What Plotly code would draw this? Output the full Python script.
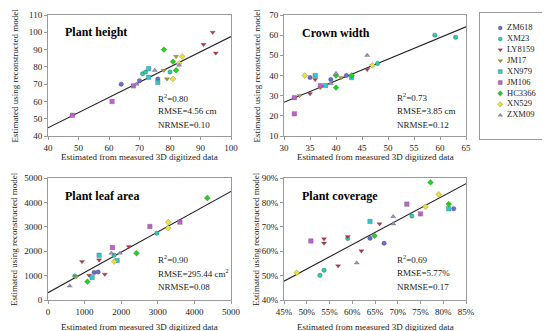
import plotly.graph_objects as go

W, H = 550, 331

cultivars = ["ZM618", "XM23", "LY8159", "JM17", "XN979", "JM106", "HC3366", "XN529", "ZXM09"]
colors = ["#6a6ad0", "#2fc8a8", "#b8384a", "#a8a020", "#30c8d0", "#c060d0", "#20d020", "#ece040", "#9a90c8"]
symbols = ["circle", "circle", "triangle-down", "triangle-down", "square", "square", "diamond", "diamond", "triangle-up"]

# Plant height (cm)
height_x = [[64, 70, 76], [71, 72, 80], [94, 91, 95], [78, 79, 82], [73, 73, 76],
            [48, 61, 68], [78, 81, 82], [81, 84, 83], [75, 83, 69]]
height_y = [[70, 72, 73], [76, 77, 77], [100, 93, 88], [78, 73, 86], [79, 74, 71],
            [52, 60, 69], [90, 83, 78], [73, 86, 82], [78, 81, 70]]

# Crown width (cm)
crown_x = [[35, 39, 42], [48, 59, 63], [35, 36, 46], [33, 37, 41, 47], [36, 38, 43],
           [32, 32, 37], [40, 40, 43], [34, 47], [39, 40, 46]]
crown_y = [[39, 38, 40], [46, 60, 59], [31, 38, 43], [30, 34, 39, 45], [40, 35, 39],
           [29, 21, 35], [40, 34, 40], [40, 45], [36, 41, 50]]

# Plant leaf area (cm2)
leaf_x = [[1259, 1369], [730, 1807, 2974], [930, 1122, 1551, 1396, 2208], [775],
          [1204, 1396, 1889], [1761, 2783, 3604], [1077, 2418, 4352], [1807, 3285, 3285],
          [593, 1733, 1962]]
leaf_y = [[1123, 1151], [986, 1836, 2740], [1575, 1014, 1055, 1644, 2192], [960],
          [918, 1836, 1617], [2151, 3014, 3192], [753, 1918, 4179], [1575, 3192, 2946],
          [575, 1918, 1918]]

# Plant coverage (fraction)
cover_x = [[0.639, 0.670, 0.823], [0.529, 0.538, 0.590, 0.731], [0.538, 0.538, 0.569, 0.590, 0.620, 0.660],
           [], [0.639, 0.812], [0.509, 0.720, 0.750], [0.649, 0.772, 0.812],
           [0.478, 0.761, 0.790], [0.610, 0.690, 0.690]]
cover_y = [[0.653, 0.633, 0.774], [0.501, 0.522, 0.652, 0.744], [0.651, 0.633, 0.540, 0.660, 0.601, 0.712],
           [], [0.722, 0.774], [0.642, 0.793, 0.753], [0.663, 0.882, 0.793],
           [0.512, 0.782, 0.833], [0.552, 0.742, 0.712]]

# Fitted lines: intercept, slope
fit_height = (9.5, 0.88)
fit_crown = (-5.4, 1.07)
fit_leaf = (301, 0.83)
fit_cover = (0.027, 1.0)

titles = ["Plant height", "Crown width", "Plant leaf area", "Plant coverage"]
stats = [["R<sup>2</sup>=0.80", "RMSE=4.56 cm", "NRMSE=0.10"],
         ["R<sup>2</sup>=0.73", "RMSE=3.85 cm", "NRMSE=0.12"],
         ["R<sup>2</sup>=0.90", "RMSE=295.44 cm<sup>2</sup>", "NRMSE=0.08"],
         ["R<sup>2</sup>=0.69", "RMSE=5.77%", "NRMSE=0.17"]]

xranges = [[40, 100], [30, 65], [0, 5000], [0.45, 0.85]]
yranges = [[40, 110], [10, 70], [0, 5000], [0.40, 0.90]]
xdticks = [10, 5, 1000, 0.05]
ydticks = [10, 10, 1000, 0.1]

FONT = "Liberation Serif, Times New Roman, serif"

# pixel boxes for the panels (left, right, top, bottom)
boxes = [(40, 223, 7, 128), (276, 458, 7, 128), (40, 223, 170, 292), (276, 458, 170, 292)]

fig = go.Figure()

panels = [(height_x, height_y, fit_height), (crown_x, crown_y, fit_crown),
          (leaf_x, leaf_y, fit_leaf), (cover_x, cover_y, fit_cover)]

for p, (xs, ys, fit) in enumerate(panels):
    ax = "" if p == 0 else str(p + 1)
    b0, b1 = fit
    lx = xranges[p]
    fig.add_trace(go.Scatter(x=lx, y=[b0 + b1 * v for v in lx], mode="lines",
                             line=dict(color="#222222", width=1.1), showlegend=False,
                             hoverinfo="skip", xaxis="x" + ax, yaxis="y" + ax))
    for i, name in enumerate(cultivars):
        if not xs[i]:
            continue
        fig.add_trace(go.Scatter(x=xs[i], y=ys[i], mode="markers", name=name,
                                 marker=dict(symbol=symbols[i], color=colors[i], size=4.5,
                                             line=dict(color="rgba(60,60,60,0.5)", width=0.5)),
                                 showlegend=False, xaxis="x" + ax, yaxis="y" + ax))

# custom legend panel
n = len(cultivars)
for i, name in enumerate(cultivars):
    fig.add_trace(go.Scatter(x=[0.27], y=[i], mode="markers",
                             marker=dict(symbol=symbols[i], color=colors[i], size=4,
                                         line=dict(color="rgba(60,60,60,0.5)", width=0.5)),
                             showlegend=False, xaxis="x5", yaxis="y5", hoverinfo="skip"))
fig.add_trace(go.Scatter(x=[0.36] * n, y=list(range(n)), mode="text", text=cultivars,
                         textposition="middle right", textfont=dict(family=FONT, size=8.5, color="#222"),
                         showlegend=False, xaxis="x5", yaxis="y5", hoverinfo="skip"))

layout = dict(width=W, height=H, margin=dict(l=0, r=0, t=0, b=0, autoexpand=False),
              paper_bgcolor="white", plot_bgcolor="white",
              font=dict(family=FONT, size=9, color="#222"), showlegend=False)

axis_common = dict(showgrid=False, zeroline=False, showline=True, mirror=True, automargin=False,
                   linecolor="#9a9a9a", linewidth=1, ticks="outside", ticklen=3,
                   tickcolor="#9a9a9a", tickfont=dict(family=FONT, size=9, color="#222"))

for p, (l, r, t, b) in enumerate(boxes):
    ax = "" if p == 0 else str(p + 1)
    xa = dict(axis_common, domain=[l / W, r / W], range=xranges[p], dtick=xdticks[p],
              anchor="y" + ax)
    ya = dict(axis_common, domain=[1 - b / H, 1 - t / H], range=yranges[p], dtick=ydticks[p],
              anchor="x" + ax)
    if p == 3:
        xa["tickformat"] = ".0%"
        ya["tickformat"] = ".0%"
    layout["xaxis" + ax] = xa
    layout["yaxis" + ax] = ya

layout["xaxis5"] = dict(domain=[472 / W, 547 / W], range=[0, 1], showgrid=False, zeroline=False,
                        showticklabels=False, showline=True, mirror=True, linecolor="#9a9a9a",
                        linewidth=1, anchor="y5", automargin=False)
layout["yaxis5"] = dict(domain=[1 - 131 / H, 1 - 5 / H], range=[10.18, -1.38], showgrid=False,
                        zeroline=False, showticklabels=False, showline=True, mirror=True,
                        linecolor="#9a9a9a", linewidth=1, anchor="x5", automargin=False)

annotations = []
title_pos = [(55, 24), (292, 25), (55, 188), (292, 188)]
stat_pos = [(148, [90, 103, 117]), (387, [89, 103, 117]), (148, [251, 265, 279]), (387, [251, 265, 279])]
for p in range(4):
    tx, ty = title_pos[p]
    annotations.append(dict(x=tx / W, y=1 - ty / H, xref="paper", yref="paper", xanchor="left",
                            yanchor="middle", showarrow=False, text="<b>%s</b>" % titles[p],
                            font=dict(family=FONT, size=12, color="#000")))
    sx, sys_ = stat_pos[p]
    for k in range(3):
        annotations.append(dict(x=sx / W, y=1 - sys_[k] / H, xref="paper", yref="paper",
                                xanchor="left", yanchor="middle", showarrow=False, text=stats[p][k],
                                font=dict(family=FONT, size=9, color="#222")))
    l, r, t, b = boxes[p]
    xt_y = 149 if p < 2 else 319
    annotations.append(dict(x=(l + r) / 2 / W, y=1 - xt_y / H, xref="paper", yref="paper",
                            xanchor="center", yanchor="middle", showarrow=False,
                            text="Estimated from measured 3D digitized data",
                            font=dict(family=FONT, size=9, color="#222")))
    yt_x = 6 if p % 2 == 0 else 248
    annotations.append(dict(x=yt_x / W, y=1 - (t + b) / 2 / H, xref="paper", yref="paper",
                            xanchor="center", yanchor="middle", showarrow=False, textangle=-90,
                            text="Estimated using reconstructed model",
                            font=dict(family=FONT, size=9, color="#222")))
layout["annotations"] = annotations

fig.update_layout(**layout)
fig.write_html("out.html")
